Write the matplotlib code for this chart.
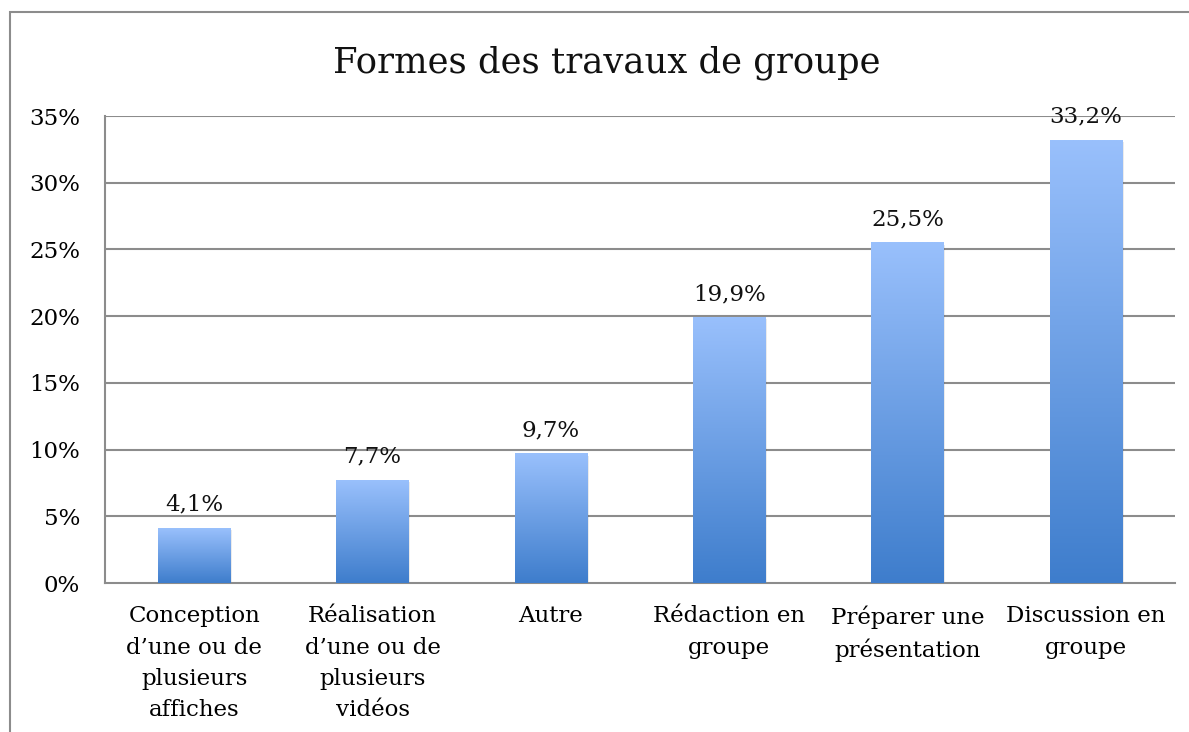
import numpy as np
import matplotlib.pyplot as plt
from matplotlib.colors import LinearSegmentedColormap
from matplotlib.patches import Rectangle

categories = ["Conception\nd\u2019une ou de\nplusieurs\naffiches",
              "R\u00e9alisation\nd\u2019une ou de\nplusieurs\nvid\u00e9os",
              "Autre",
              "R\u00e9daction en\ngroupe",
              "Pr\u00e9parer une\npr\u00e9sentation",
              "Discussion en\ngroupe"]
values = [4.1, 7.7, 9.7, 19.9, 25.5, 33.2]
yticks = [0, 5, 10, 15, 20, 25, 30, 35]

plt.rcParams['font.family'] = ['DejaVu Serif']

fig = plt.figure(figsize=(11.89, 7.32), dpi=100)
# outer chart border (left and top visible)
fig.add_artist(Rectangle((10 / 1189, -0.1), 1.2, 1 - 12 / 732 + 0.1,
                         transform=fig.transFigure, fill=False,
                         edgecolor="#8c8c8c", linewidth=1.5))

ax = fig.add_axes([105 / 1189, 1 - 583 / 732, 1070 / 1189, 467 / 732])
x = np.arange(len(values))

for t in yticks[1:]:
    ax.axhline(t, color="#8c8c8c", linewidth=1.5, zorder=1)

cmap = LinearSegmentedColormap.from_list("bar", ["#3e7dcc", "#99c0fc"])
grad = np.linspace(0, 1, 256).reshape(-1, 1)
w = 0.405
for xi, v in zip(x, values):
    # soft shadow
    ax.add_patch(Rectangle((xi - w / 2 + 0.01, -0.15), w, v, facecolor="#000000",
                           alpha=0.08, edgecolor="none", zorder=2))
    ax.imshow(grad, cmap=cmap, aspect="auto", origin="lower",
              extent=(xi - w / 2, xi + w / 2, 0, v), zorder=3)
    ax.annotate(f"{v:.1f}%".replace(".", ","), (xi, v), xytext=(0, 9),
                textcoords="offset points", ha="center", va="bottom",
                fontsize=16.5, color="#111111", zorder=4)

ax.set_xlim(-0.5, len(values) - 0.5)
ax.set_ylim(0, 35)
ax.set_xticks(x)
ax.set_xticklabels(categories, fontsize=16.5, linespacing=1.55, va="top")
ax.set_yticks(yticks)
ax.set_yticklabels([f"{t}%" for t in yticks], fontsize=16.5)
ax.tick_params(axis="y", length=0, pad=18)
ax.tick_params(axis="x", length=0, pad=16)
for s in ["top", "right"]:
    ax.spines[s].set_visible(False)
for s in ["left", "bottom"]:
    ax.spines[s].set_color("#8c8c8c")
    ax.spines[s].set_linewidth(1.5)

fig.text(607 / 1189, 1 - 63 / 732, "Formes des travaux de groupe",
         ha="center", va="center", fontsize=25.5, color="#111111")

fig.savefig("out.png", dpi=100)
